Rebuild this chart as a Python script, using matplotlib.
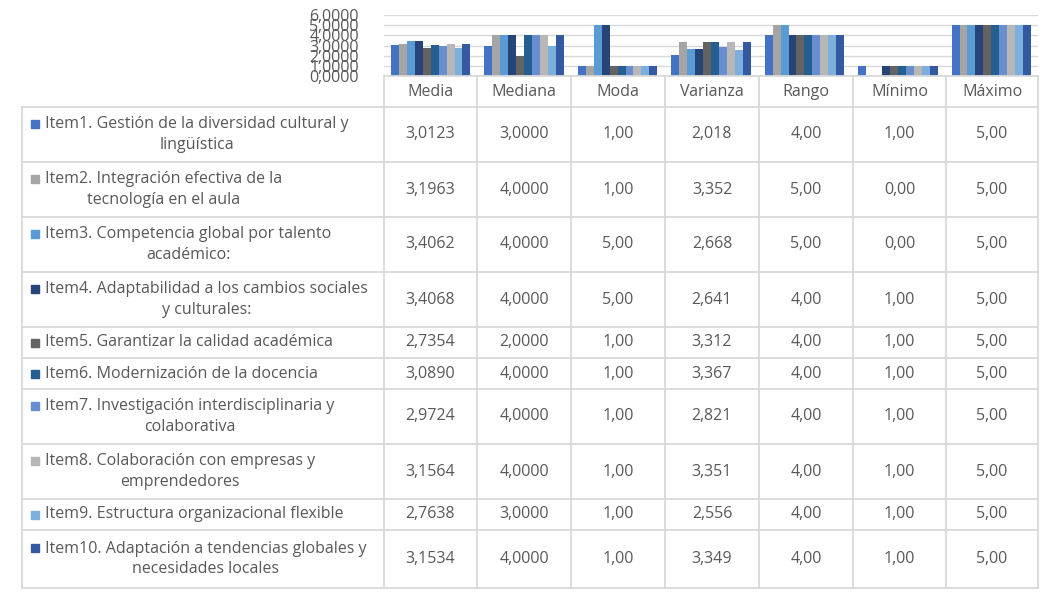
import matplotlib
matplotlib.use("Agg")
import matplotlib.pyplot as plt
import numpy as np

stats = ["Media", "Mediana", "Moda", "Varianza", "Rango", "Mínimo", "Máximo"]
items = ["Item1. Gestión de la diversidad cultural y\nlingüística",
         "Item2. Integración efectiva de la\ntecnología en el aula",
         "Item3. Competencia global por talento\nacadémico:",
         "Item4. Adaptabilidad a los cambios sociales\ny culturales:",
         "Item5. Garantizar la calidad académica",
         "Item6. Modernización de la docencia",
         "Item7. Investigación interdisciplinaria y\ncolaborativa",
         "Item8. Colaboración con empresas y\nemprendedores",
         "Item9. Estructura organizacional flexible",
         "Item10. Adaptación a tendencias globales y\nnecesidades locales"]
media = [3.0123, 3.1963, 3.4062, 3.4068, 2.7354, 3.0890, 2.9724, 3.1564, 2.7638, 3.1534]
mediana = [3.0, 4.0, 4.0, 4.0, 2.0, 4.0, 4.0, 4.0, 3.0, 4.0]
moda = [1.0, 1.0, 5.0, 5.0, 1.0, 1.0, 1.0, 1.0, 1.0, 1.0]
varianza = [2.018, 3.352, 2.668, 2.641, 3.312, 3.367, 2.821, 3.351, 2.556, 3.349]
rango = [4.0, 5.0, 5.0, 4.0, 4.0, 4.0, 4.0, 4.0, 4.0, 4.0]
minimo = [1.0, 0.0, 0.0, 1.0, 1.0, 1.0, 1.0, 1.0, 1.0, 1.0]
maximo = [5.0] * 10
yticks = [0, 1, 2, 3, 4, 5, 6]

columns = [media, mediana, moda, varianza, rango, minimo, maximo]
fmts = ["{:.4f}", "{:.4f}", "{:.2f}", "{:.3f}", "{:.2f}", "{:.2f}", "{:.2f}"]
colors = ["#4472C4", "#A5A5A5", "#5B9BD5", "#264478", "#636363",
          "#255E91", "#698ED0", "#B7B7B7", "#7CAFDD", "#335AA1"]
txt = "#595959"
grid = "#D9D9D9"
FONT = "Open Sans"
FS = 11.5

W, H = 1055, 595
fig = plt.figure(figsize=(W / 100, H / 100), dpi=100)

x0, x1 = 384, 1038
ytop, ybot = 15, 76
ax = fig.add_axes([x0 / W, 1 - ybot / H, (x1 - x0) / W, (ybot - ytop) / H])
n = len(items)
bw = 0.085
xs = np.arange(len(stats))
for i in range(n):
    vals = [col[i] for col in columns]
    ax.bar(xs - bw * n / 2 + bw * (i + 0.5), vals, bw, color=colors[i], zorder=3)
ax.set_xlim(-0.5, len(stats) - 0.5)
ax.set_ylim(0, 6)
ax.set_yticks(yticks)
ax.set_yticklabels([f"{v:.4f}".replace(".", ",") for v in yticks],
                   fontsize=11.5, color=txt, family=FONT, linespacing=1)
ax.tick_params(axis="y", length=0, pad=18)
ax.set_xticks([])
ax.yaxis.grid(True, color=grid, lw=1, zorder=0)
for s in ax.spines.values():
    s.set_visible(False)

# table
tb = fig.add_axes([0, 0, 1, 1])
tb.set_xlim(0, W)
tb.set_ylim(H, 0)
tb.axis("off")
colx = [384, 477, 571, 665, 759, 853, 946, 1038]
rowy = [107, 162, 217, 272, 327, 358, 389, 444, 499, 530, 588]
lc = "#D9D9D9"
for cx in colx:
    tb.plot([cx, cx], [76, 588], color=lc, lw=1.3)
tb.plot([22, 22], [107, 588], color=lc, lw=1.3)
tb.plot([384, 1038], [76, 76], color=lc, lw=1.3)
for ry in rowy:
    tb.plot([22, 1038], [ry, ry], color=lc, lw=1.3)
hy = (76 + 107) / 2
for j, s in enumerate(stats):
    tb.text((colx[j] + colx[j + 1]) / 2, hy, s, ha="center", va="center",
            fontsize=FS, color=txt, family=FONT)
for i in range(n):
    cy = (rowy[i] + rowy[i + 1]) / 2
    multi = "\n" in items[i]
    top = cy - 11 if multi else cy
    tb.add_patch(plt.Rectangle((31, top - 4), 8, 8, color=colors[i]))
    tb.text(45, cy, items[i], ha="left", va="center", fontsize=FS,
            color=txt, family=FONT, multialignment="center", linespacing=1.35)
    for j, col in enumerate(columns):
        tb.text((colx[j] + colx[j + 1]) / 2, cy, fmts[j].format(col[i]).replace(".", ","),
                ha="center", va="center", fontsize=FS, color=txt, family=FONT)

fig.savefig("out.png", dpi=100, facecolor="white")
